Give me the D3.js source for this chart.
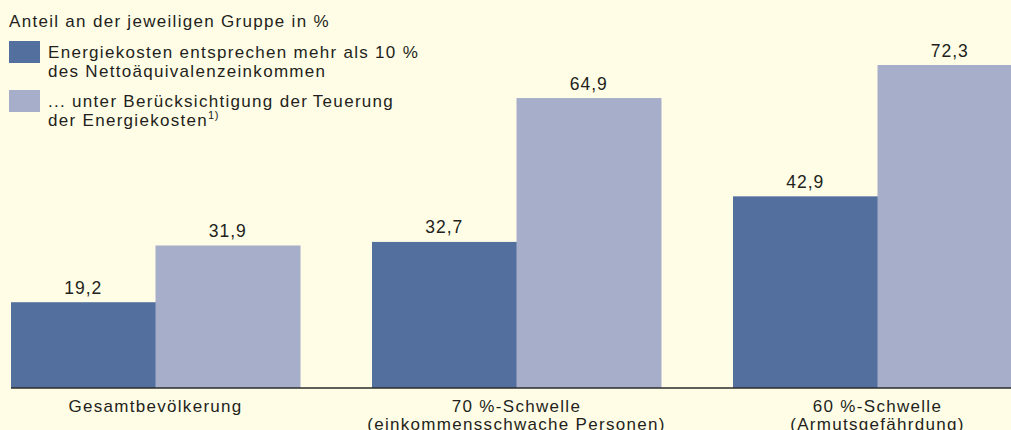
<!DOCTYPE html>
<html lang="de">
<head>
<meta charset="UTF-8">
<title>Energiekosten</title>
<script src="https://d3js.org/d3.v7.min.js"></script>
<style>
  body { margin: 0; background: #fffde6; }
  svg { display: block; font-family: "Liberation Sans", Arial, sans-serif; }
  text { fill: #231f20; font-size: 17px; letter-spacing: 1.3px; }
</style>
</head>
<body>
<svg width="1011" height="430"></svg>
<script>
var categories = [
    ["Gesamtbevölkerung"],
    ["70 %-Schwelle", "(einkommensschwache Personen)"],
    ["60 %-Schwelle", "(Armutsgefährdung)"]
];
var seriesNames = ["Energiekosten", "Teuerung"];
var energiekosten = [19.2, 32.7, 42.9];
var teuerung = [31.9, 64.9, 72.3];
var legendLines = [
    ["Energiekosten entsprechen mehr als 10 %", "des Nettoäquivalenzeinkommen"],
    ["... unter Berücksichtigung der\u2009Teuerung", "der Energiekosten"]
];
var colors = ["#536f9e", "#a7aeca"];

var svg = d3.select("svg"),
    baseY = 388;

var de = d3.formatLocale({decimal: ",", thousands: ".", grouping: [3], currency: ["", " €"]});
var fmt = de.format(".1f");

var x0 = d3.scaleBand()
    .domain(d3.range(categories.length))
    .range([11, 1022])
    .paddingInner(72 / 361)
    .paddingOuter(0);

var x1 = d3.scaleBand()
    .domain(seriesNames)
    .range([0, x0.bandwidth()]);

var y = d3.scaleLinear().domain([0, 72.3]).range([baseY, 65]);

var color = d3.scaleOrdinal().domain(seriesNames).range(colors);

var rows = categories.map(function(c, i) {
    return [
        {s: seriesNames[0], v: energiekosten[i]},
        {s: seriesNames[1], v: teuerung[i]}
    ];
});

var groups = svg.selectAll(".grp")
    .data(rows)
    .enter().append("g")
    .attr("class", "grp")
    .attr("transform", function(d, i) { return "translate(" + x0(i) + ",0)"; });

groups.selectAll("rect")
    .data(function(d) { return d; })
    .enter().append("rect")
    .attr("x", function(d) { return x1(d.s); })
    .attr("y", function(d) { return y(d.v); })
    .attr("width", x1.bandwidth() + 0.5)
    .attr("height", function(d) { return baseY - y(d.v); })
    .attr("fill", function(d) { return color(d.s); });

groups.selectAll(".val")
    .data(function(d) { return d; })
    .enter().append("text")
    .attr("class", "val")
    .attr("x", function(d) { return x1(d.s) + x1.bandwidth() / 2; })
    .attr("y", function(d) { return y(d.v) - 8.5; })
    .attr("text-anchor", "middle")
    .style("font-size", "17.5px")
    .style("letter-spacing", "1px")
    .text(function(d) { return fmt(d.v); });

// baseline
svg.append("line")
    .attr("x1", 11).attr("x2", 1011)
    .attr("y1", baseY).attr("y2", baseY)
    .attr("stroke", "#2b2b2b")
    .attr("stroke-width", 1.6);

// category labels
svg.selectAll(".cat")
    .data(categories)
    .enter().append("text")
    .attr("class", "cat")
    .attr("text-anchor", "middle")
    .attr("transform", function(d, i) { return "translate(" + (x0(i) + x0.bandwidth() / 2) + ",411.5)"; })
    .selectAll("tspan")
    .data(function(d) { return d; })
    .enter().append("tspan")
    .attr("x", 0)
    .attr("dy", function(d, j) { return j === 0 ? 0 : 18; })
    .text(function(d) { return d; });

// title
svg.append("text")
    .attr("x", 9).attr("y", 27)
    .text("Anteil an der jeweiligen Gruppe in %");

// legend
var leg = svg.selectAll(".leg")
    .data(legendLines)
    .enter().append("g")
    .attr("class", "leg")
    .attr("transform", function(d, i) { return "translate(9," + (41 + i * 49) + ")"; });

leg.append("rect")
    .attr("width", 31).attr("height", 22)
    .attr("fill", function(d, i) { return colors[i]; });

var lt = leg.append("text")
    .attr("x", 39).attr("y", 17);
lt.selectAll("tspan")
    .data(function(d) { return d; })
    .enter().append("tspan")
    .attr("x", 39)
    .attr("dy", function(d, j) { return j === 0 ? 0 : 18.5; })
    .text(function(d) { return d; });

// footnote marker
d3.select(leg.nodes()[1]).select("text")
    .append("tspan")
    .attr("dy", -7)
    .style("font-size", "11px")
    .style("letter-spacing", "0.5px")
    .text("1)");
</script>
</body>
</html>
